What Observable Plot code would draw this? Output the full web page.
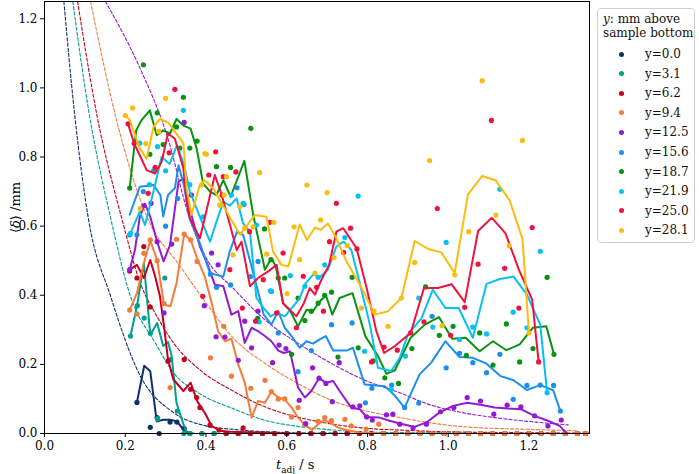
<!DOCTYPE html>
<html><head><meta charset="utf-8">
<script src="https://cdn.jsdelivr.net/npm/d3@7"></script>
<script src="https://cdn.jsdelivr.net/npm/@observablehq/plot@0.6"></script>
<style>
body{margin:0;background:#fff;}
#wrap{position:relative;width:699px;height:474px;font-family:"DejaVu Serif",serif;}
#legend{position:absolute;left:597px;top:8px;width:98px;height:235px;border:1px solid #d0d0d0;border-radius:4px;box-sizing:border-box;font-size:12px;color:#111;}
#legend .title{position:absolute;left:5px;top:4px;line-height:13.5px;white-space:nowrap;}
#legend .row{position:absolute;left:0;height:16px;line-height:16px;white-space:nowrap;}
#legend .dot{position:absolute;left:21px;top:5.5px;width:5px;height:5px;border-radius:50%;}
#legend .lab{position:absolute;left:47px;top:0;}
#ylab{position:absolute;left:-20px;top:200px;width:70px;text-align:center;transform:rotate(-90deg);font-size:13px;}
#xlab{position:absolute;left:276px;top:457px;font-size:13px;}
</style></head>
<body><div id="wrap"></div>
<script>
const labels = ["y=0.0","y=3.1","y=6.2","y=9.4","y=12.5","y=15.6","y=18.7","y=21.9","y=25.0","y=28.1"];
const colors = ["#0d2f6f","#00a08a","#c4001e","#f57b3a","#9419d6","#1a8fef","#06930f","#04c1f2","#f2103f","#fbbd0c"];
const xTicks = [0,0.2,0.4,0.6,0.8,1.0,1.2];
const yTicks = [0,0.2,0.4,0.6,0.8,1.0,1.2];
const zeroTimes = [0.36,0.39,0.42,0.45,0.48,0.51,0.54,0.57,0.60,0.63,0.66,0.69,0.72,0.75,0.78,0.81,0.84,0.87,0.90,0.93,0.96,0.99,1.02,1.05,1.08,1.11,1.14,1.17,1.20,1.23,1.26,1.29,1.32,1.34];
const zeroStart = [0.36,0.36,0.45,0.84,null,null,null,null,null,null];

// y=0.0
const pts00 = [[0.229,0.09],[0.262,0.018],[0.279,0.046],[0.284,0.0],[0.311,0.033],[0.328,0.033],[0.346,0.015]];
const line00 = [[0.229,0.09],[0.247,0.196],[0.262,0.18],[0.278,0.035],[0.295,0.04],[0.311,0.04],[0.328,0.035],[0.346,0.008],[0.362,0]];
const fit00 = [[0.048,1.25],[0.075,0.92],[0.109,0.62],[0.163,0.40],[0.237,0.167],[0.319,0.061],[0.40,0.022],[0.467,0.012],[0.55,0.005],[0.7,0.001],[1.35,0]];
// y=3.1
const pts31 = [[0.213,0.282],[0.23,0.37],[0.247,0.334],[0.262,0.29],[0.28,0.043],[0.298,0.45],[0.312,0.214],[0.329,0.065],[0.345,0.0]];
const line31 = [[0.213,0.282],[0.229,0.368],[0.246,0.493],[0.262,0.286],[0.279,0.32],[0.294,0.253],[0.306,0.265],[0.315,0.224],[0.327,0.089],[0.344,0.027],[0.352,0.003],[0.37,0]];
const fit31 = [[0.070,1.25],[0.11,0.93],[0.163,0.628],[0.212,0.40],[0.274,0.263],[0.319,0.177],[0.385,0.115],[0.467,0.072],[0.55,0.037],[0.632,0.02],[0.715,0.01],[0.85,0.003],[1.35,0]];
// y=6.2
const pts62 = [[0.211,0.47],[0.229,0.45],[0.246,0.541],[0.262,0.366],[0.306,0.21],[0.346,0.214],[0.362,0.128],[0.377,0.104],[0.385,0.075],[0.41,0.024],[0.432,0.01],[0.492,0.016]];
const line62 = [[0.211,0.474],[0.229,0.488],[0.246,0.45],[0.262,0.502],[0.274,0.455],[0.286,0.397],[0.296,0.311],[0.306,0.214],[0.319,0.157],[0.344,0.123],[0.362,0.147],[0.378,0.094],[0.397,0.06],[0.414,0.022],[0.434,0.008],[0.46,0.005],[0.53,0.003],[0.6,0]];
const fit62 = [[0.082,1.25],[0.13,0.92],[0.192,0.62],[0.237,0.436],[0.278,0.34],[0.319,0.263],[0.385,0.184],[0.467,0.123],[0.55,0.075],[0.632,0.046],[0.715,0.027],[0.798,0.015],[0.88,0.01],[1.0,0.005],[1.35,0.001]];
// y=9.4
const pts94 = [[0.211,0.357],[0.229,0.346],[0.246,0.521],[0.262,0.56],[0.279,0.50],[0.296,0.376],[0.311,0.133],[0.327,0.562],[0.346,0.577],[0.362,0.56],[0.378,0.498],[0.411,0.219],[0.444,0.31],[0.463,0.166],[0.511,0.131],[0.546,0.154],[0.562,0.121],[0.579,0.1],[0.595,0.1],[0.612,0.048],[0.628,0.075],[0.645,0.025],[0.678,0.035],[0.694,0.046],[0.711,0.037],[0.744,0.041],[0.76,0.022],[0.797,0.013],[0.828,0.027]];
const line94 = [[0.211,0.357],[0.229,0.406],[0.246,0.493],[0.262,0.558],[0.279,0.502],[0.296,0.373],[0.312,0.368],[0.327,0.435],[0.346,0.577],[0.362,0.56],[0.378,0.507],[0.397,0.454],[0.414,0.378],[0.43,0.296],[0.447,0.267],[0.463,0.274],[0.48,0.20],[0.496,0.147],[0.513,0.046],[0.529,0.094],[0.546,0.089],[0.562,0.121],[0.579,0.104],[0.595,0.099],[0.612,0.075],[0.628,0.046],[0.645,0.025],[0.663,0.01],[0.678,0.027],[0.694,0.039],[0.711,0.029],[0.727,0.017],[0.748,0.01],[0.781,0.003],[0.83,0.0]];
const fit94 = [[0.114,1.25],[0.18,0.90],[0.254,0.627],[0.336,0.484],[0.402,0.375],[0.467,0.277],[0.55,0.20],[0.632,0.142],[0.715,0.094],[0.798,0.065],[0.88,0.046],[1.033,0.02],[1.198,0.012],[1.32,0.008]];
// y=12.5
const pts125 = [[0.211,0.474],[0.246,0.659],[0.264,0.666],[0.279,0.555],[0.296,0.349],[0.315,0.548],[0.346,0.90],[0.364,0.69],[0.396,0.37],[0.414,0.522],[0.43,0.488],[0.425,0.28],[0.447,0.279],[0.48,0.212],[0.496,0.325],[0.513,0.248],[0.529,0.354],[0.565,0.205],[0.581,0.256],[0.598,0.246],[0.631,0.096],[0.647,0.029],[0.664,0.19],[0.68,0.16],[0.697,0.145],[0.713,0.092],[0.73,0.205],[0.764,0.077],[0.781,0.08],[0.798,0.048],[0.812,0.039],[0.847,0.054],[0.863,0.056],[0.88,0.027],[0.913,0.016],[0.946,0.027],[0.981,0.063],[1.014,0.075],[1.047,0.104],[1.08,0.094],[1.113,0.056],[1.146,0.082],[1.18,0.077],[1.214,0.051],[1.247,0.022],[1.28,0.039]];
const line125 = [[0.211,0.474],[0.224,0.531],[0.236,0.627],[0.249,0.665],[0.262,0.627],[0.279,0.555],[0.295,0.498],[0.311,0.546],[0.332,0.729],[0.344,0.738],[0.364,0.632],[0.385,0.541],[0.401,0.498],[0.422,0.431],[0.443,0.426],[0.463,0.344],[0.48,0.354],[0.496,0.262],[0.513,0.306],[0.529,0.296],[0.546,0.282],[0.562,0.267],[0.579,0.24],[0.593,0.233],[0.608,0.238],[0.628,0.133],[0.645,0.104],[0.661,0.123],[0.68,0.16],[0.697,0.147],[0.715,0.152],[0.731,0.123],[0.76,0.075],[0.781,0.07],[0.798,0.048],[0.83,0.046],[0.855,0.037],[0.88,0.029],[0.917,0.019],[0.946,0.032],[0.979,0.061],[1.012,0.08],[1.047,0.089],[1.08,0.083],[1.115,0.075],[1.148,0.072],[1.181,0.07],[1.214,0.051],[1.247,0.037],[1.276,0.022],[1.294,0]];
const fit125 = [[0.151,1.25],[0.237,1.056],[0.303,0.864],[0.36,0.62],[0.401,0.507],[0.467,0.421],[0.55,0.325],[0.632,0.258],[0.715,0.20],[0.798,0.152],[0.88,0.118],[0.95,0.085],[1.033,0.061],[1.115,0.046],[1.198,0.035],[1.297,0.025]];
// y=15.6
const pts156 = [[0.211,0.575],[0.229,0.575],[0.245,0.70],[0.27,0.76],[0.30,0.60],[0.33,0.68],[0.36,0.64],[0.411,0.461],[0.426,0.423],[0.461,0.43],[0.477,0.711],[0.494,0.663],[0.51,0.454],[0.529,0.498],[0.562,0.411],[0.579,0.291],[0.628,0.179],[0.661,0.24],[0.711,0.315],[0.762,0.32],[0.795,0.089],[0.811,0.131],[0.86,0.14],[0.892,0.075],[0.927,0.088],[0.96,0.339],[0.995,0.19],[1.028,0.232],[1.061,0.205],[1.095,0.176],[1.128,0.229],[1.161,0.099],[1.195,0.139],[1.228,0.14],[1.261,0.139],[1.278,0.065]];
const line156 = [[0.211,0.633],[0.236,0.714],[0.27,0.719],[0.287,0.69],[0.294,0.628],[0.306,0.69],[0.323,0.71],[0.332,0.776],[0.345,0.72],[0.36,0.62],[0.385,0.55],[0.41,0.464],[0.443,0.454],[0.459,0.527],[0.477,0.584],[0.492,0.575],[0.529,0.411],[0.543,0.344],[0.562,0.315],[0.579,0.354],[0.595,0.306],[0.612,0.282],[0.632,0.248],[0.649,0.267],[0.665,0.26],[0.684,0.274],[0.697,0.282],[0.715,0.24],[0.748,0.24],[0.764,0.248],[0.793,0.142],[0.843,0.137],[0.868,0.109],[0.892,0.075],[0.929,0.171],[0.958,0.205],[0.993,0.267],[1.028,0.221],[1.061,0.219],[1.095,0.202],[1.13,0.166],[1.162,0.154],[1.195,0.126],[1.228,0.14],[1.26,0.125],[1.278,0.065]];
// y=18.7
const pts187 = [[0.211,0.71],[0.245,1.067],[0.261,0.808],[0.279,0.928],[0.294,0.836],[0.327,0.887],[0.335,0.826],[0.344,0.973],[0.36,0.826],[0.378,0.846],[0.426,0.772],[0.461,0.77],[0.511,0.883],[0.528,0.333],[0.545,0.592],[0.561,0.503],[0.579,0.45],[0.595,0.45],[0.612,0.229],[0.628,0.392],[0.645,0.327],[0.661,0.354],[0.678,0.377],[0.694,0.40],[0.711,0.409],[0.727,0.221],[0.762,0.452],[0.777,0.248],[0.814,0.21],[0.843,0.161],[0.877,0.145],[0.91,0.246],[0.944,0.424],[0.978,0.284],[1.012,0.31],[1.045,0.226],[1.078,0.291],[1.111,0.198],[1.144,0.317],[1.177,0.207],[1.21,0.246],[1.245,0.452],[1.262,0.229]];
const line187 = [[0.211,0.71],[0.227,0.877],[0.24,0.906],[0.261,0.935],[0.278,0.863],[0.294,0.877],[0.311,0.868],[0.327,0.91],[0.344,0.891],[0.362,0.882],[0.377,0.824],[0.393,0.723],[0.41,0.70],[0.426,0.69],[0.443,0.733],[0.461,0.685],[0.495,0.789],[0.517,0.632],[0.546,0.474],[0.562,0.507],[0.573,0.483],[0.591,0.377],[0.609,0.354],[0.628,0.31],[0.649,0.358],[0.665,0.354],[0.682,0.382],[0.697,0.40],[0.713,0.344],[0.731,0.392],[0.763,0.406],[0.795,0.281],[0.826,0.224],[0.847,0.173],[0.868,0.183],[0.907,0.277],[0.942,0.315],[0.977,0.337],[1.01,0.274],[1.043,0.277],[1.078,0.238],[1.111,0.267],[1.144,0.241],[1.177,0.258],[1.21,0.306],[1.243,0.31],[1.262,0.229]];
// y=21.9
const pts219 = [[0.213,0.579],[0.236,0.84],[0.26,0.72],[0.28,0.83],[0.30,0.76],[0.344,0.935],[0.36,0.72],[0.393,0.627],[0.463,0.69],[0.492,0.666],[0.525,0.603],[0.532,0.323],[0.56,0.413],[0.609,0.457],[0.645,0.426],[0.678,0.452],[0.694,0.488],[0.744,0.567],[0.777,0.687],[0.793,0.238],[0.859,0.128],[0.894,0.224],[0.927,0.392],[0.962,0.308],[0.995,0.553],[1.028,0.272],[1.061,0.308],[1.095,0.288],[1.128,0.707],[1.161,0.351],[1.195,0.306],[1.228,0.527],[1.245,0.118]];
const line219 = [[0.213,0.579],[0.236,0.642],[0.249,0.603],[0.27,0.70],[0.29,0.80],[0.31,0.78],[0.328,0.834],[0.345,0.78],[0.36,0.70],[0.385,0.627],[0.41,0.555],[0.426,0.613],[0.443,0.671],[0.459,0.659],[0.476,0.68],[0.492,0.608],[0.509,0.584],[0.525,0.392],[0.543,0.363],[0.56,0.339],[0.576,0.35],[0.595,0.339],[0.616,0.368],[0.632,0.392],[0.647,0.435],[0.665,0.459],[0.684,0.454],[0.702,0.474],[0.723,0.541],[0.741,0.555],[0.76,0.531],[0.781,0.435],[0.806,0.315],[0.826,0.19],[0.859,0.181],[0.88,0.219],[0.90,0.286],[0.934,0.334],[0.962,0.416],[0.993,0.363],[1.026,0.363],[1.061,0.277],[1.095,0.433],[1.128,0.447],[1.162,0.454],[1.195,0.402],[1.228,0.315],[1.245,0.118]];
// y=25.0
const pts250 = [[0.207,0.896],[0.222,0.839],[0.257,0.695],[0.274,0.77],[0.309,0.812],[0.323,0.996],[0.392,0.397],[0.407,0.748],[0.424,0.815],[0.44,0.69],[0.443,0.743],[0.459,0.474],[0.474,0.757],[0.49,0.363],[0.508,0.584],[0.523,0.325],[0.542,0.445],[0.558,0.611],[0.575,0.349],[0.591,0.522],[0.624,0.306],[0.641,0.455],[0.674,0.423],[0.691,0.354],[0.706,0.555],[0.723,0.666],[0.741,0.524],[0.758,0.594],[0.774,0.534],[0.81,0.207],[0.841,0.25],[0.874,0.241],[0.907,0.291],[0.94,0.323],[0.973,0.651],[1.006,0.284],[1.041,0.365],[1.074,0.49],[1.107,0.906],[1.14,0.478],[1.175,0.363],[1.208,0.596],[1.224,0.207]];
const line250 = [[0.207,0.896],[0.222,0.839],[0.236,0.805],[0.253,0.762],[0.274,0.752],[0.29,0.786],[0.306,0.868],[0.323,0.853],[0.344,0.767],[0.352,0.671],[0.36,0.623],[0.385,0.565],[0.422,0.748],[0.439,0.69],[0.455,0.623],[0.476,0.531],[0.488,0.555],[0.509,0.426],[0.529,0.45],[0.554,0.469],[0.575,0.488],[0.591,0.377],[0.624,0.339],[0.641,0.373],[0.657,0.421],[0.67,0.402],[0.686,0.445],[0.705,0.488],[0.723,0.584],[0.74,0.594],[0.773,0.536],[0.798,0.421],[0.822,0.296],[0.841,0.233],[0.868,0.253],[0.907,0.291],[0.94,0.421],[0.975,0.421],[1.008,0.432],[1.041,0.38],[1.074,0.586],[1.108,0.624],[1.142,0.579],[1.175,0.474],[1.208,0.387],[1.224,0.207]];
// y=28.1
const pts281 = [[0.2,0.92],[0.218,0.942],[0.237,0.651],[0.251,0.839],[0.283,0.874],[0.30,0.97],[0.389,0.719],[0.397,0.81],[0.401,0.808],[0.434,0.661],[0.445,0.69],[0.451,0.743],[0.467,0.517],[0.484,0.656],[0.496,0.594],[0.517,0.598],[0.533,0.755],[0.55,0.519],[0.568,0.611],[0.601,0.405],[0.618,0.598],[0.632,0.503],[0.65,0.719],[0.67,0.464],[0.684,0.618],[0.70,0.697],[0.717,0.509],[0.75,0.544],[0.785,0.363],[0.816,0.354],[0.851,0.31],[0.884,0.392],[0.917,0.495],[0.954,0.79],[0.985,0.312],[1.016,0.459],[1.051,0.584],[1.084,1.021],[1.118,0.632],[1.151,0.544],[1.184,0.848],[1.2,0.291]];
const line281 = [[0.202,0.92],[0.212,0.905],[0.236,0.825],[0.253,0.795],[0.27,0.887],[0.286,0.91],[0.306,0.90],[0.344,0.84],[0.352,0.71],[0.364,0.633],[0.385,0.72],[0.397,0.733],[0.418,0.709],[0.451,0.642],[0.484,0.575],[0.521,0.632],[0.55,0.627],[0.566,0.527],[0.587,0.488],[0.604,0.483],[0.632,0.605],[0.65,0.56],[0.67,0.596],[0.684,0.589],[0.702,0.608],[0.723,0.565],[0.748,0.498],[0.777,0.44],[0.798,0.392],[0.818,0.344],[0.851,0.354],[0.884,0.392],[0.917,0.557],[0.95,0.534],[0.983,0.524],[1.016,0.464],[1.049,0.692],[1.084,0.745],[1.117,0.733],[1.152,0.675],[1.184,0.563],[1.2,0.291]];

const allPts = [pts00,pts31,pts62,pts94,pts125,pts156,pts187,pts219,pts250,pts281];
const allLines = [line00,line31,line62,line94,line125,line156,line187,line219,line250,line281];
const allFits = [fit00,fit31,fit62,fit94,fit125,null,null,null,null,null];

const X = d => d[0], Y = d => d[1];
const marks = [];
allFits.forEach((f, i) => { if (f) marks.push(Plot.line(f, {x: X, y: Y, stroke: colors[i], strokeWidth: 1.1, strokeDasharray: "3.2,2", curve: "monotone-x", clip: true})); });
allPts.forEach((p, i) => {
  const zs = zeroStart[i] == null ? [] : zeroTimes.filter(t => t >= zeroStart[i]).map(t => [t, 0]);
  marks.push(Plot.dot(p.concat(zs), {x: X, y: Y, r: 2.6, fill: colors[i], stroke: "none"}));
  marks.push(Plot.line(allLines[i], {x: X, y: Y, stroke: colors[i], strokeWidth: 2, clip: true}));
});
marks.push(Plot.frame({stroke: "#000", strokeWidth: 1}));
marks.push(Plot.axisX({ticks: xTicks, tickFormat: d3.format(".1f"), tickSize: 4, tickPadding: 4, label: null}));
marks.push(Plot.axisY({ticks: yTicks, tickFormat: d3.format(".1f"), tickSize: 4, tickPadding: 3, label: null}));

const chart = Plot.plot({
  width: 699, height: 474,
  marginLeft: 44, marginRight: 110, marginTop: 1, marginBottom: 41,
  x: {domain: [0, 1.35]},
  y: {domain: [0, 1.25]},
  style: {fontFamily: "DejaVu Serif", fontSize: "12px", color: "#000", background: "#fff"},
  marks
});
const wrap = document.getElementById("wrap");
wrap.appendChild(chart);

const lg = document.createElement("div");
lg.id = "legend";
let html = '<div class="title"><i>y</i>: mm above<br>sample bottom</div>';
labels.forEach((l, i) => {
  html += `<div class="row" style="top:${37 + i * 19.6}px;width:96px"><span class="dot" style="background:${colors[i]}"></span><span class="lab">${l}</span></div>`;
});
lg.innerHTML = html;
wrap.appendChild(lg);

const yl = document.createElement("div");
yl.id = "ylab"; yl.innerHTML = "⟨<i>δ</i>⟩ /mm";
wrap.appendChild(yl);
const xl = document.createElement("div");
xl.id = "xlab"; xl.innerHTML = "<i>t</i><sub style='font-size:9px'>adj</sub> / s";
wrap.appendChild(xl);
</script></body></html>
